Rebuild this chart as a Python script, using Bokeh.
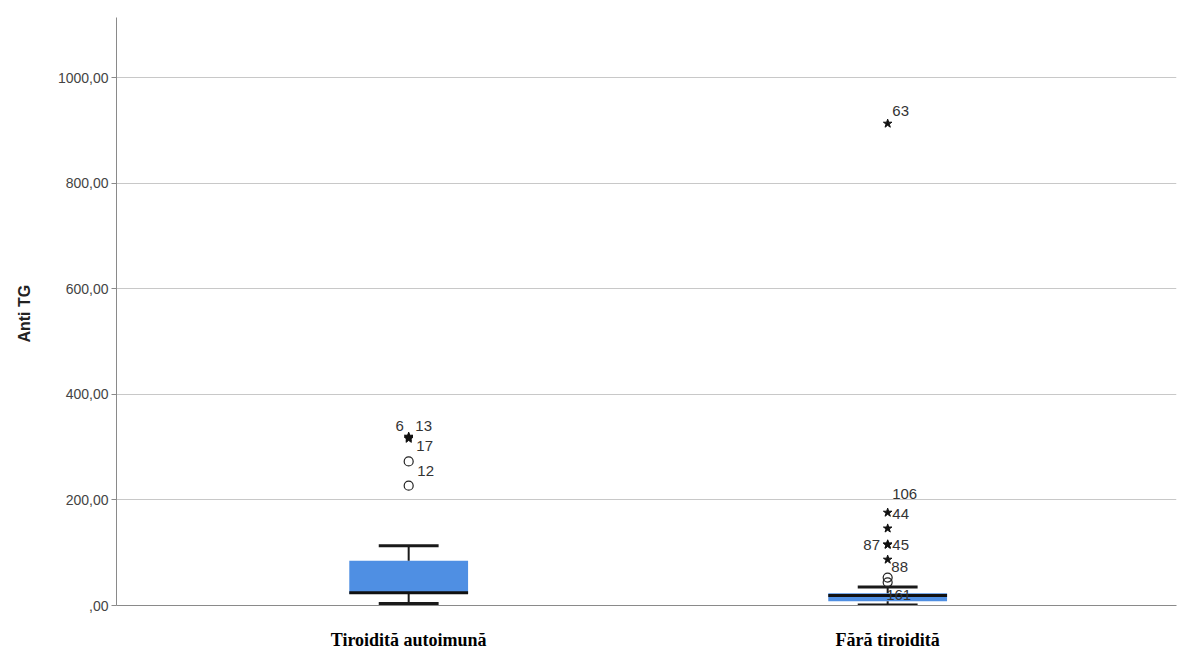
from bokeh.plotting import figure
from bokeh.models import Range1d, FixedTicker, ColumnDataSource
from bokeh.core.properties import value
from bokeh.embed import file_html
from bokeh.resources import INLINE

# ---------------- data ----------------
categories = ["Tiroidită autoimună", "Fără tiroidită"]
q1 = [22, 8]
medians = [24, 19]
q3 = [85, 23]
whisker_low = [4, 1]
whisker_high = [113, 35]

# extreme outliers (stars) and outliers (circles): group index, value
star_group = [0, 0, 0, 1, 1, 1, 1, 1, 1]
star_value = [320, 318, 316, 913, 176, 146, 116, 115, 87]
circle_group = [0, 0, 1, 1]
circle_value = [273, 227, 53, 44]

# case labels: text, group index, value
label_text = ["6", "13", "17", "12", "63", "106", "44", "87", "45", "88", "161"]
label_group = [0, 0, 0, 0, 1, 1, 1, 1, 1, 1, 1]
label_value = [341, 341, 303, 254, 937, 212, 174, 115, 115, 72, 19]

y_ticks = [0, 200, 400, 600, 800, 1000]
y_tick_labels = [",00", "200,00", "400,00", "600,00", "800,00", "1000,00"]

# ---------------- styling ----------------
label_dx = [-9, 15, 16, 17, 13, 17, 13, -16, 13, 12, 11]
BOX_W = 0.248
CAP_W = 0.125

xs = [i + 1 for i in range(len(categories))]

p = figure(width=1180, height=654,
           x_range=Range1d(0.39, 2.603), y_range=Range1d(0, 1114),
           output_backend="svg", toolbar_location=None,
           min_border_left=116, min_border_right=4,
           min_border_top=17, min_border_bottom=49)
p.outline_line_color = None
p.background_fill_color = "white"
p.xgrid.visible = False
p.ygrid.ticker = FixedTicker(ticks=y_ticks[1:])
p.ygrid.grid_line_color = "#c8c8c8"
p.ygrid.grid_line_width = 1

# boxes
p.vbar(x=xs, width=BOX_W, bottom=q1, top=q3, fill_color="#4f8fe3", line_color=None)
# whiskers
p.segment(x0=xs, x1=xs, y0=q3, y1=whisker_high, line_color="#1a1a1a", line_width=2)
p.segment(x0=xs, x1=xs, y0=q1, y1=whisker_low, line_color="#1a1a1a", line_width=2)
p.segment(x0=[x - CAP_W / 2 for x in xs], x1=[x + CAP_W / 2 for x in xs],
          y0=whisker_high, y1=whisker_high, line_color="#1a1a1a", line_width=3)
p.segment(x0=[x - CAP_W / 2 for x in xs], x1=[x + CAP_W / 2 for x in xs],
          y0=whisker_low, y1=whisker_low, line_color="#1a1a1a", line_width=3)
# medians
p.segment(x0=[x - BOX_W / 2 for x in xs], x1=[x + BOX_W / 2 for x in xs],
          y0=medians, y1=medians, line_color="#111111", line_width=3)

# outliers
p.scatter(x=[xs[g] for g in star_group], y=star_value, marker="star", size=9,
          fill_color="#111111", line_color="#111111")
p.scatter(x=[xs[g] for g in circle_group], y=circle_value, marker="circle", size=9,
          fill_color=None, line_color="#222222", line_width=1.2)

lab_src = ColumnDataSource(dict(x=[xs[g] for g in label_group], y=label_value,
                                text=label_text, dx=label_dx))
p.text(x="x", y="y", text="text", x_offset="dx", source=lab_src,
       text_align="center", text_baseline="middle",
       text_font=value("Liberation Sans"), text_font_size="15px", text_color="#333333")

# axes
p.xaxis.ticker = FixedTicker(ticks=xs)
p.xaxis.major_label_overrides = {x: c for x, c in zip(xs, categories)}
p.xaxis.major_label_text_font = "Liberation Serif"
p.xaxis.major_label_text_font_style = "bold"
p.xaxis.major_label_text_font_size = "18px"
p.xaxis.major_label_text_color = "black"
p.xaxis.major_tick_line_color = None
p.xaxis.minor_tick_line_color = None
p.xaxis.major_label_standoff = 18
p.xaxis.axis_line_color = "#8a8a8a"

p.yaxis.ticker = FixedTicker(ticks=y_ticks)
p.yaxis.major_label_overrides = {t: l for t, l in zip(y_ticks, y_tick_labels)}
p.yaxis.major_label_text_font = "Liberation Sans"
p.yaxis.major_label_text_font_size = "14px"
p.yaxis.major_label_text_color = "#444444"
p.yaxis.major_tick_out = 5
p.yaxis.major_tick_in = 0
p.yaxis.major_tick_line_color = "#8a8a8a"
p.yaxis.minor_tick_line_color = None
p.yaxis.major_label_standoff = 3
p.yaxis.axis_line_color = "#8a8a8a"
p.yaxis.axis_label = "Anti  TG"
p.yaxis.axis_label_text_font = "Liberation Sans"
p.yaxis.axis_label_text_font_style = "bold"
p.yaxis.axis_label_text_font_size = "16px"
p.yaxis.axis_label_text_color = "#222222"
p.yaxis.axis_label_standoff = 22

open("out.html", "w").write(file_html(p, INLINE))
